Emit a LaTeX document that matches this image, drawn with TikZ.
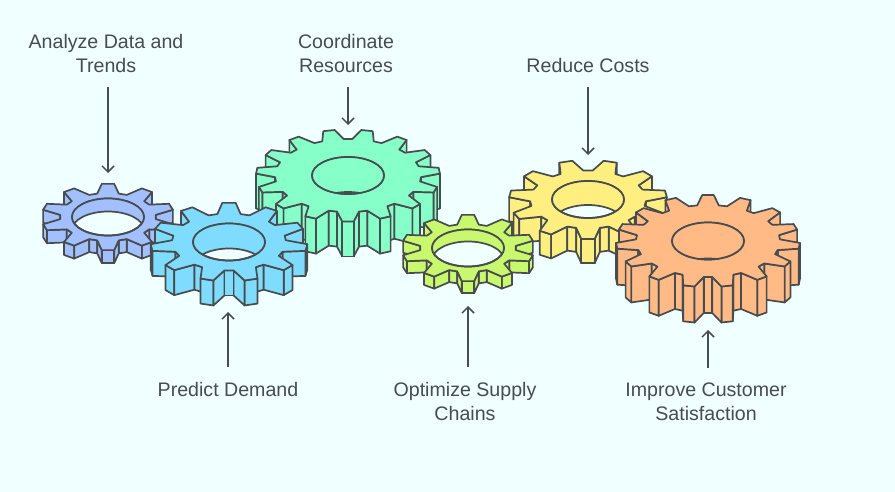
\documentclass[tikz,border=0pt]{standalone}
\usepackage{fontspec}
\setmainfont{Liberation Sans}
\usetikzlibrary{arrows.meta}
\definecolor{pagebg}{HTML}{F0FFFF}
\definecolor{inkgray}{HTML}{474C4F}
\definecolor{gearblue}{HTML}{A2BFFF}
\definecolor{gearsky}{HTML}{80DCFF}
\definecolor{gearmint}{HTML}{86FFC8}
\definecolor{gearyellow}{HTML}{FFEF80}
\definecolor{gearlime}{HTML}{C9F76E}
\definecolor{gearorange}{HTML}{FFBA86}
\tikzset{
    gearline/.style={draw=inkgray,line width=1.7pt,line join=round},
    flowline/.style={draw=inkgray,line width=1.5pt,-{Straight Barb[length=6pt,width=12pt]}},
    caption/.style={text=inkgray,font=\fontsize{19.6}{24}\selectfont,align=center,inner xsep=4pt,inner ysep=15pt}
}
\begin{document}
\begin{tikzpicture}[x=1pt,y=-1pt]
    \fill[pagebg] (0,0) rectangle (895,492);
    \useasboundingbox (0,0) rectangle (895,492);
    % id / centre / tip radius / root radius / teeth / depth / angle of first tooth / colour
    \def \Gears{ analyze/108/217/66.5/48/10/13/0/gearblue, coordinate/348/175.5/92/73/15/35/12/gearmint, predict/229/242/78.5/57/11/25/0/gearsky, reduce/588/199.5/79/58/11/24/16.364/gearyellow, optimize/468/248/66.5/48/10/12/0/gearlime, improve/708/241/92/72/15/36/0/gearorange}
    % id / x / y / text / arrow x / arrow tip y / side
    \def \Labels{ analyze/106/53/{Analyze Data and\\Trends}/108/173/south, coordinate/346/53/{Coordinate\\Resources}/348/125/south, reduce/588/65/{Reduce Costs}/588/155/south, predict/228/389/{Predict Demand}/228/312/north, optimize/465/401/{Optimize Supply\\Chains}/468/306/north, improve/706/402/{Improve Customer\\Satisfaction}/708/330/north}
    \foreach \id / \cx / \cy / \rt / \rr / \n / \dep / \off / \col in \Gears{
        \pgfmathsetmacro\pitch{360/\n}
        \pgfmathsetmacro\halfroot{0.36*\pitch}
        \pgfmathsetmacro\halftip{0.15*\pitch}
        \pgfmathtruncatemacro\last{(180-\off)/\pitch+0.01}
        \pgfmathtruncatemacro\nm{\n-1}
        \coordinate (gear\id) at (\cx,\cy);
        % side walls, back to front
        \foreach \k in {0,...,\last}{
            \pgfmathsetmacro\pos{\off+\k*\pitch}
            \foreach \sgn in {1,-1}{
                \foreach \angA / \radA / \angB / \radB in {-\halfroot/\rr/-\halftip/\rt, -\halftip/\rt/\halftip/\rt, \halftip/\rt/\halfroot/\rr, \halfroot/\rr/\pitch-\halfroot/\rr}{
                    \pgfmathparse{and(\radB*sin(\pos+(\angB))<\radA*sin(\pos+(\angA)),\pos+(\angA)<180)}
                    \ifdim\pgfmathresult pt>0.5pt
                        \path[gearline,fill=\col] ({\cx+\sgn*\radA*sin(\pos+(\angA))},{\cy-0.5*\radA*cos(\pos+(\angA))}) -- ({\cx+\sgn*\radB*sin(\pos+(\angB))},{\cy-0.5*\radB*cos(\pos+(\angB))}) -- ({\cx+\sgn*\radB*sin(\pos+(\angB))},{\cy+\dep-0.5*\radB*cos(\pos+(\angB))}) -- ({\cx+\sgn*\radA*sin(\pos+(\angA))},{\cy+\dep-0.5*\radA*cos(\pos+(\angA))}) -- cycle;
                    \fi
                }
            }
        }
        % top face with its hole
        \path[gearline,fill=\col,even odd rule] ({\cx+\rr*sin(\off-\halfroot)},{\cy-0.5*\rr*cos(\off-\halfroot)})
            \foreach [evaluate=\k as \pos using \off+\k*\pitch] \k in {0,...,\nm}{
                -- ({\cx+\rr*sin(\pos-\halfroot)},{\cy-0.5*\rr*cos(\pos-\halfroot)})
                -- ({\cx+\rt*sin(\pos-\halftip)},{\cy-0.5*\rt*cos(\pos-\halftip)})
                -- ({\cx+\rt*sin(\pos+\halftip)},{\cy-0.5*\rt*cos(\pos+\halftip)})
                -- ({\cx+\rr*sin(\pos+\halfroot)},{\cy-0.5*\rr*cos(\pos+\halfroot)})
            } -- cycle (\cx,\cy) ellipse [x radius=36,y radius=18.5];
        \begin{scope}
            \clip (\cx,\cy) ellipse [x radius=36,y radius=18.5];
            \fill[\col,even odd rule] ({\cx-40},{\cy-30}) rectangle ({\cx+40},{\cy+30}) (\cx,{\cy+\dep}) ellipse [x radius=36,y radius=18.5];
            \path[gearline] (\cx,{\cy+\dep}) ellipse [x radius=36,y radius=18.5];
        \end{scope}
        \path[gearline] (\cx,\cy) ellipse [x radius=36,y radius=18.5];
    }
    \foreach \id / \x / \y / \txt / \ax / \ay / \side in \Labels{
        \node[caption] (\id) at (\x,\y) {\txt};
        \coordinate (tip\id) at (\ax,\ay);
        \path[flowline] (\id.\side -| tip\id) -- (tip\id);
    }
\end{tikzpicture}
\end{document}
